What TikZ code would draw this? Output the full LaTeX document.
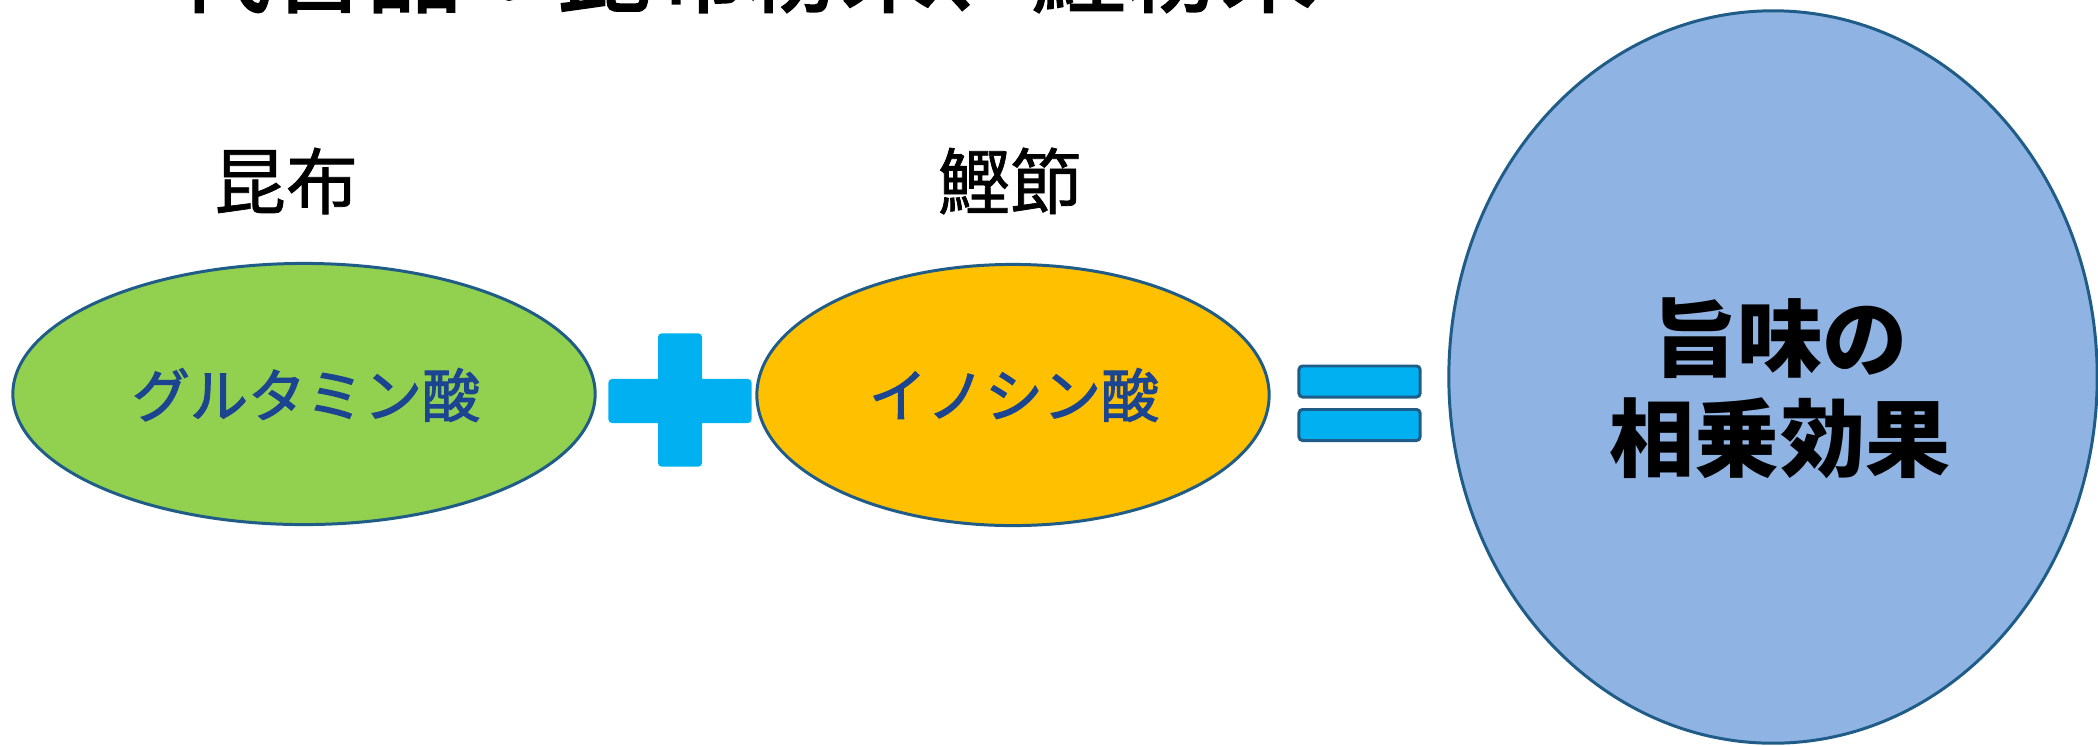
\documentclass[tikz,border=0pt]{standalone}
\usepackage{fontspec}
\setmainfont{Noto Sans CJK JP}
\newfontfamily\heavyjp[FakeBold=2]{Noto Sans CJK JP}
\newfontfamily\midjp[FakeBold=1]{Noto Sans CJK JP}
\usetikzlibrary{shapes.geometric}
\definecolor{edgeblue}{HTML}{1F5D88}
\definecolor{kombugreen}{HTML}{92D050}
\definecolor{katsuoorange}{HTML}{FFC000}
\definecolor{resultblue}{HTML}{8FB4E3}
\definecolor{signcyan}{HTML}{00B0F0}
\definecolor{acidtext}{HTML}{1B4590}
\tikzset{
  blob/.style={ellipse, draw=edgeblue, line width=0.85pt, inner sep=0pt, outer sep=0pt},
  acid/.style={text=acidtext, font=\heavyjp\fontsize{16.5pt}{19pt}\selectfont},
  srclabel/.style={inner sep=0pt, font=\midjp\fontsize{20.5pt}{24pt}\selectfont},
  titletext/.style={inner sep=0pt, font=\heavyjp\fontsize{27pt}{32pt}\selectfont},
  resulttext/.style={inner sep=0pt, align=center, font=\fontsize{24.2pt}{28.5pt}\selectfont\bfseries},
  plusbar/.style={fill=signcyan, draw=none, inner sep=0pt, outer sep=0pt, rectangle, rounded corners=1pt},
  eqbar/.style={fill=signcyan, draw=edgeblue, line width=0.85pt, inner sep=0pt, outer sep=0pt, rectangle, rounded corners=1pt, minimum width=1.21cm, minimum height=0.31cm}
}
\begin{document}
\begin{tikzpicture}[x=0.01cm,y=-0.01cm]
\useasboundingbox (0,0) rectangle (2098,745);
\clip (0,0) rectangle (2098,745);
\fill[white] (0,0) rectangle (2098,745);

\node[titletext, anchor=base west] (title) at (176,5) {代替品：昆布粉末、鰹粉末};

\node[srclabel] (kombu) at (286,181) {昆布};
\node[srclabel] (katsuo) at (1010,181) {鰹節};

\node[blob, fill=kombugreen, minimum width=5.82cm, minimum height=2.61cm] (glu) at (304,394) {};
\node[acid] (glutext) at (306,395) {グルタミン酸};

\node[plusbar, minimum width=0.44cm, minimum height=1.33cm] (plusv) at (680,400) {};
\node[plusbar, minimum width=1.43cm, minimum height=0.44cm] (plush) at (680,401) {};

\node[blob, fill=katsuoorange, minimum width=5.12cm, minimum height=2.61cm] (ino) at (1013,395) {};
\node[acid] (inotext) at (1014,395) {イノシン酸};

\node[eqbar] (eqtop) at (1359.5,381.5) {};
\node[eqbar] (eqbot) at (1359.5,425) {};

\node[blob, fill=resultblue, minimum width=6.48cm, minimum height=7.32cm] (result) at (1773,377) {};
\node[resulttext] (resulttxt) at (1780,388) {旨味の\\相乗効果};
\end{tikzpicture}
\end{document}
